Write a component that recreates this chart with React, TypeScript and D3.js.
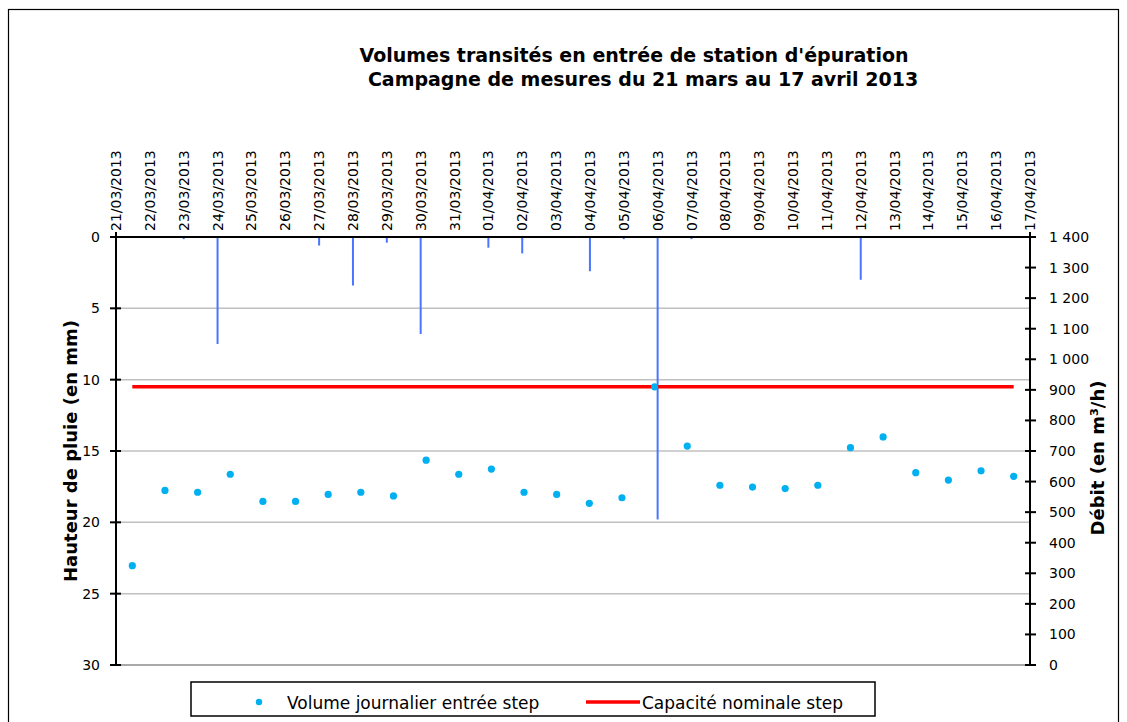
import * as d3 from 'd3'

const dates = [
  '21/03/2013', '22/03/2013', '23/03/2013', '24/03/2013', '25/03/2013', '26/03/2013', '27/03/2013',
  '28/03/2013', '29/03/2013', '30/03/2013', '31/03/2013', '01/04/2013', '02/04/2013', '03/04/2013',
  '04/04/2013', '05/04/2013', '06/04/2013', '07/04/2013', '08/04/2013', '09/04/2013', '10/04/2013',
  '11/04/2013', '12/04/2013', '13/04/2013', '14/04/2013', '15/04/2013', '16/04/2013', '17/04/2013',
]

// hauteur de pluie (mm), axe de gauche inversé
const rain = [0, 0, 0.15, 7.5, 0, 0, 0.6, 3.4, 0.4, 6.8, 0, 0.75, 1.15, 0, 2.4, 0.15, 19.8, 0.15, 0, 0, 0, 0, 3.0, 0, 0, 0, 0, 0]

// volume journalier entrée step (axe de droite)
const volume = [325, 571, 565, 624, 535, 535, 558, 565, 553, 670, 624, 641, 565, 558, 529, 547, 910, 716, 588, 582, 577, 588, 711, 746, 629, 605, 635, 617]

const capacity = 910

const leftTicks = [0, 5, 10, 15, 20, 25, 30]
const rightTicks = [0, 100, 200, 300, 400, 500, 600, 700, 800, 900, 1000, 1100, 1200, 1300, 1400]

const W = 1127
const H = 722
const plot = { left: 116, right: 1030, top: 237, bottom: 665 }
const font = 'DejaVu Sans, Verdana, sans-serif'

const fmtRight = (v: number) => (v >= 1000 ? `${Math.floor(v / 1000)} ${String(v % 1000).padStart(3, '0')}` : String(v))

export default function App() {
  const xTick = d3.scalePoint<string>().domain(dates).range([plot.left, plot.right])
  const xBand = d3.scaleBand<string>().domain(dates).range([plot.left, plot.right])
  const yLeft = d3.scaleLinear().domain([0, 30]).range([plot.top, plot.bottom])
  const yRight = d3.scaleLinear().domain([0, 1400]).range([plot.bottom, plot.top])
  const cx = (d: string) => (xBand(d) ?? 0) + xBand.bandwidth() / 2

  return (
    <div style={{ position: 'absolute', left: 0, top: 0 }}>
      <svg width={W} height={H} style={{ display: 'block', fontFamily: font }}>
        <rect x={0} y={0} width={W} height={H} fill="#fff" />
        <rect x={8.5} y={9.5} width={1110} height={760} fill="none" stroke="#000" strokeWidth={1.2} />

        <text x={634} y={62} textAnchor="middle" fontWeight="bold" fontSize={19}>
          Volumes transités en entrée de station d'épuration
        </text>
        <text x={643} y={86} textAnchor="middle" fontWeight="bold" fontSize={19}>
          Campagne de mesures du 21 mars au 17 avril 2013
        </text>

        {/* grille */}
        {leftTicks.slice(1).map(t => (
          <line key={t} x1={plot.left} x2={plot.right} y1={yLeft(t)} y2={yLeft(t)}
            stroke={t === 30 ? '#8c8c8c' : '#c0c0c0'} strokeWidth={1.5} />
        ))}

        {/* pluie */}
        {dates.map((d, i) => rain[i] > 0 && (
          <rect key={d} x={(xTick(d) ?? 0) - 1} y={yLeft(0)} width={2}
            height={Math.max(yLeft(rain[i]) - yLeft(0), 1.5)} fill="#4a76ff" />
        ))}

        {/* axes */}
        <line x1={plot.left} x2={plot.right} y1={plot.top} y2={plot.top} stroke="#000" strokeWidth={2} />
        <line x1={plot.left} x2={plot.left} y1={plot.top - 5} y2={plot.bottom} stroke="#000" strokeWidth={2} />
        <line x1={plot.right} x2={plot.right} y1={plot.top - 5} y2={plot.bottom} stroke="#000" strokeWidth={2} />

        {leftTicks.map(t => (
          <g key={t}>
            <line x1={plot.left - 6} x2={plot.left + 5} y1={yLeft(t)} y2={yLeft(t)} stroke="#000" strokeWidth={2} />
            <text x={100} y={yLeft(t)} dy="0.36em" textAnchor="end" fontSize={14}>{t}</text>
          </g>
        ))}
        {rightTicks.map(t => (
          <g key={t}>
            <line x1={plot.right - 5} x2={plot.right + 6} y1={yRight(t)} y2={yRight(t)} stroke="#000" strokeWidth={2} />
            <text x={1049} y={yRight(t)} dy="0.36em" fontSize={14}>{fmtRight(t)}</text>
          </g>
        ))}

        {dates.map(d => (
          <text key={d} transform={`translate(${xTick(d)},231) rotate(-90)`} dy="0.36em" fontSize={14}>{d}</text>
        ))}

        <text transform="translate(77,451) rotate(-90)" textAnchor="middle" fontWeight="bold" fontSize={18}>
          Hauteur de pluie (en mm)
        </text>
        <text transform="translate(1104,458) rotate(-90)" textAnchor="middle" fontWeight="bold" fontSize={18}>
          Débit (en m³/h)
        </text>

        {/* capacité nominale */}
        <line x1={cx(dates[0])} x2={cx(dates[dates.length - 1])} y1={yRight(capacity)} y2={yRight(capacity)}
          stroke="#ff0000" strokeWidth={3.5} />

        {/* volumes */}
        {dates.map((d, i) => (
          <circle key={d} cx={cx(d)} cy={yRight(volume[i])} r={3.6} fill="#00b0f0" />
        ))}

        {/* légende */}
        <rect x={191} y={682} width={684} height={34} fill="#fff" stroke="#000" strokeWidth={1.5} />
        <circle cx={259} cy={702} r={3.2} fill="#00b0f0" />
        <text x={287} y={709} fontSize={17}>Volume journalier entrée step</text>
        <line x1={586} x2={640} y1={702} y2={702} stroke="#ff0000" strokeWidth={3.5} />
        <text x={642} y={709} fontSize={17}>Capacité nominale step</text>
      </svg>
    </div>
  )
}
